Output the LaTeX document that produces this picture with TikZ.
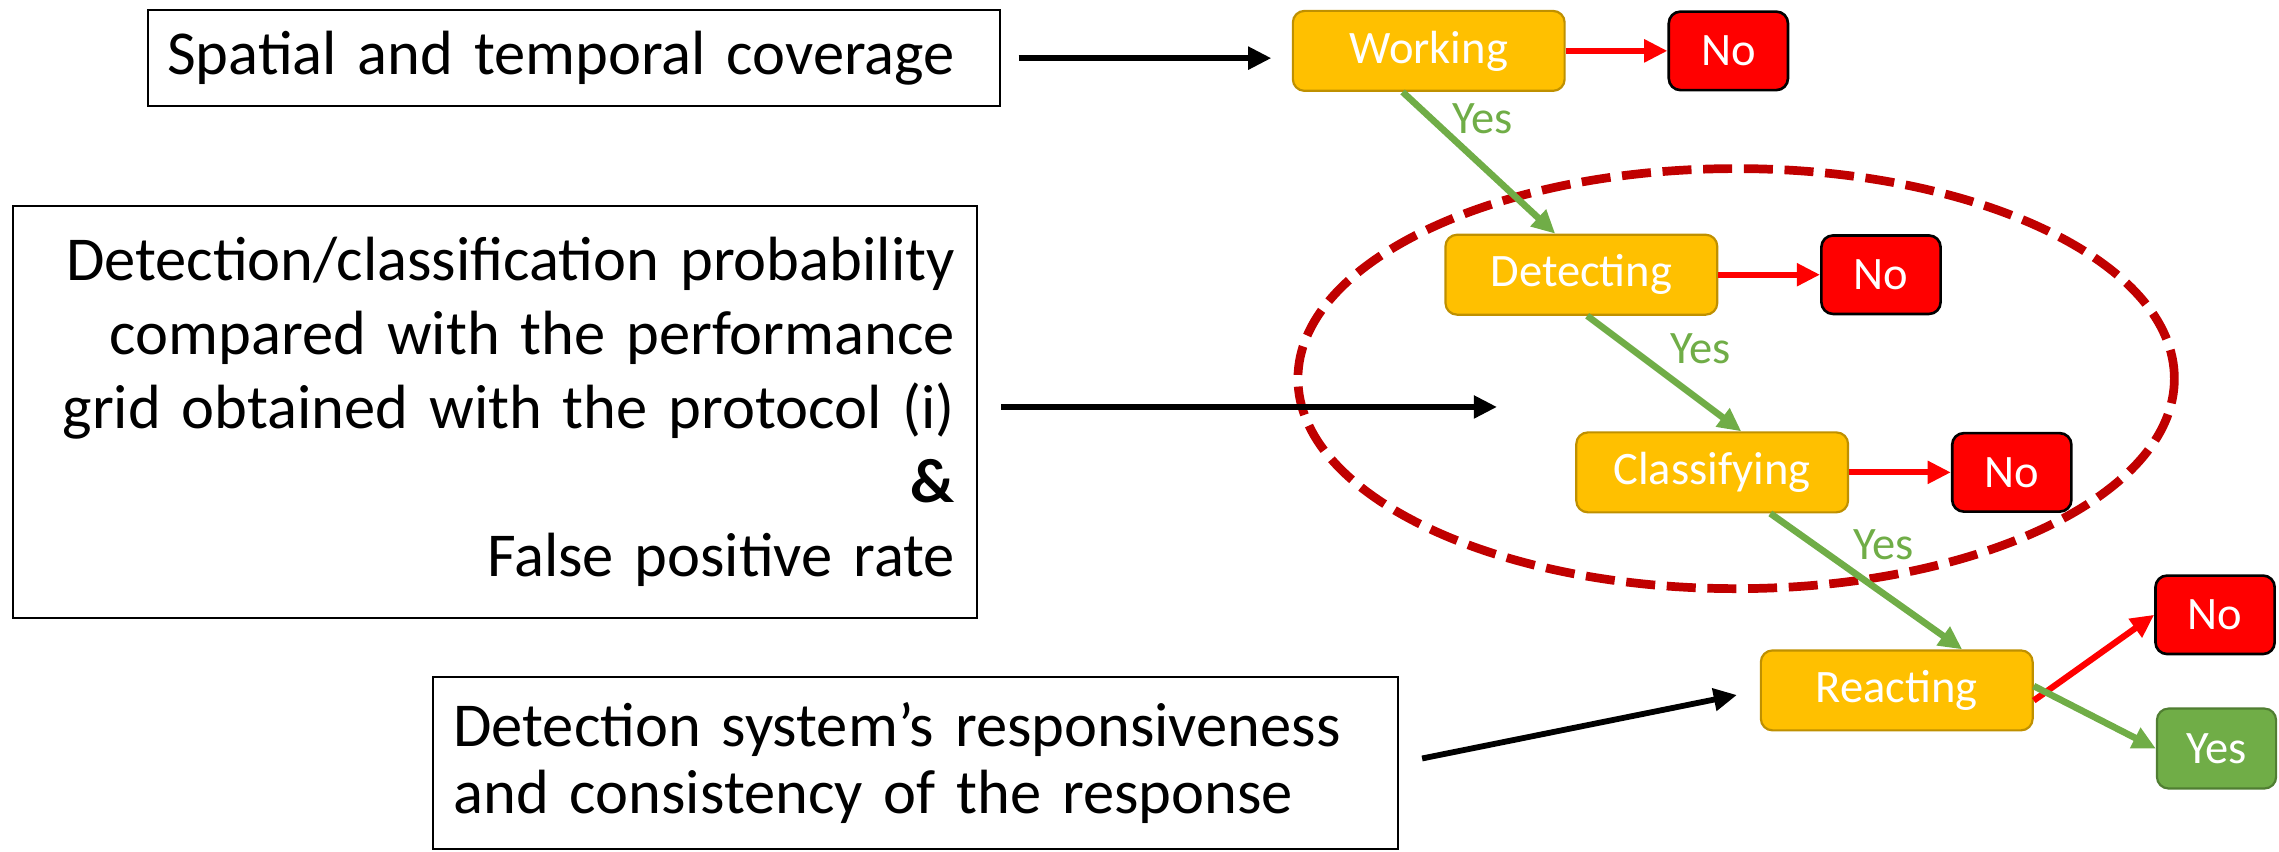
\documentclass[tikz,border=0pt]{standalone}
\usepackage{fontspec}
\setmainfont{Carlito}
\usetikzlibrary{positioning}
\usetikzlibrary{calc}
\usetikzlibrary{arrows.meta}

\definecolor{stagegold}{HTML}{FFC000}
\definecolor{stagegoldline}{HTML}{BF9000}
\definecolor{yesgreen}{HTML}{70AD47}
\definecolor{yesgreenline}{HTML}{507E32}
\definecolor{nored}{HTML}{FF0000}
\definecolor{ringred}{HTML}{C00000}

\tikzset{
	stage/.style={draw=stagegoldline, fill=stagegold, line width=1.5pt, rounded corners=8pt,
		minimum width=187pt, minimum height=55pt, inner sep=0pt, text=white,
		font=\fontsize{32}{38}\selectfont},
	nobox/.style={draw=black, fill=nored, line width=1.8pt, rounded corners=8pt,
		minimum width=82pt, minimum height=54pt, inner sep=0pt, text=white,
		font=\fontsize{32}{38}\selectfont},
	yesbox/.style={draw=yesgreenline, fill=yesgreen, line width=1.5pt, rounded corners=8pt,
		minimum width=82pt, minimum height=55pt, inner sep=0pt, text=white,
		font=\fontsize{32}{38}\selectfont},
	textbox/.style={draw=black, line width=1.5pt, inner ysep=0pt,
		font=\fontsize{43}{51}\selectfont},
	toarrow/.style={line width=4pt, -{Triangle[length=16pt,width=15pt]}},
	noarrow/.style={toarrow, nored, line width=4.3pt},
	yesarrow/.style={toarrow, yesgreen, line width=4.6pt},
	yeslabel/.style={text=yesgreen, font=\fontsize{32}{38}\selectfont}
}

\begin{document}
\begin{tikzpicture}[x=1pt, y=-1pt]
	\useasboundingbox (0,0) rectangle (1568,586);
	
	% group of detecting and classifying
	\draw [ringred, line width=6pt, dash pattern=on 20pt off 8pt] (1194.5,260.5) ellipse [x radius=301.5pt, y radius=144.5pt];
	
	\node [stage] at (983,35) (WK) {Working};
	\node [nobox, right=70pt of WK] (NO1) {No};
	\node [stage] at (1088,189) (DT) {Detecting};
	\node [nobox, right=70pt of DT] (NO2) {No};
	\node [stage] at (1178,325) (CL) {Classifying};
	\node [nobox, right=70pt of CL] (NO3) {No};
	\node [stage] at (1305,475) (RE) {Reacting};
	\node [nobox] at (1524,423) (NO4) {No};
	\node [yesbox] at (1525,515) (YES) {Yes};
	
	\node [yeslabel] at (1020,82) (Y1) {Yes};
	\node [yeslabel] at (1170,240) (Y2) {Yes};
	\node [yeslabel] at (1296,375) (Y3) {Yes};
	
	\node [textbox, minimum width=586pt, minimum height=66pt, text width=560pt, inner xsep=13pt, align=left] at (395,40) (SC) {Spatial and temporal coverage};
	\node [textbox, minimum width=663pt, minimum height=283pt, text width=633pt, inner xsep=15pt, align=right] at (340.5,283.5) (DP) {Detection/classification probability\\compared with the performance\\grid obtained with the protocol (i)\\\textbf{\&}\\False positive rate};
	\node [textbox, minimum width=664pt, minimum height=118pt, text width=636pt, inner xsep=14pt, align=left, font=\fontsize{43}{46}\selectfont] at (630,525) (RS) {Detection system’s responsiveness\\and consistency of the response};
	\coordinate (DPend) at (1030,280);
	
	\draw [toarrow, shorten <=12pt, shorten >=14pt] (SC.east) -- (SC.east -| WK.west);
	\draw [toarrow, shorten <=16pt] (DP.east |- DPend) -- (DPend);
	\draw [toarrow, shorten <=16pt, shorten >=16pt] (RS.east) -- (RE.west);
	
	\draw [noarrow] (WK.east) -- (NO1.west);
	\draw [noarrow] (DT.east) -- (NO2.west);
	\draw [noarrow] (CL.east) -- (NO3.west);
	\draw [noarrow] ([yshift=-7pt]RE.east) -- (NO4.west);
	
	\draw [yesarrow] ([xshift=-18pt]WK.south) -- ([xshift=-18pt]DT.north);
	\draw [yesarrow] ([xshift=4pt]DT.south) -- ([xshift=20pt]CL.north);
	\draw [yesarrow] ([xshift=40pt]CL.south) -- ([xshift=45pt]RE.north);
	\draw [yesarrow] ([yshift=3pt]RE.east) -- (YES.west);
	
\end{tikzpicture}
\end{document}
